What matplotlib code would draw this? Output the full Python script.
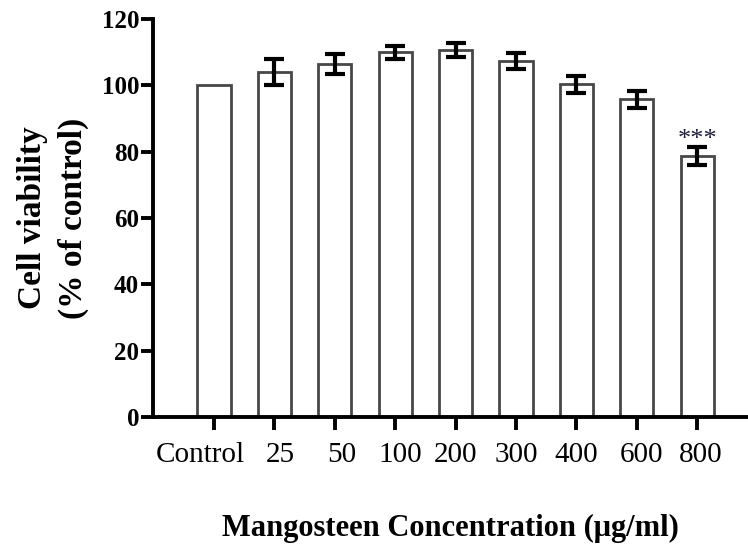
import numpy as np
import matplotlib
matplotlib.use("Agg")
from matplotlib import pyplot as plt
from matplotlib.transforms import ScaledTranslation

# Cell viability data
groups = ["Control", "25", "50", "100", "200", "300", "400", "600", "800"]
viability = [100, 104, 106.6, 110, 110.6, 107.4, 100.4, 95.8, 78.7]
sem = [0, 4, 3, 2, 2.1, 2.4, 2.6, 2.5, 2.7]
signif = ["", "", "", "", "", "", "", "", "***"]

# the original tick labels are not quite centred under their ticks
label_nudge_px = [-14, 6, 7, 5, 0, 0, 0, 5, 3]

plt.rcParams['font.family'] = ['Liberation Serif', 'DejaVu Serif']

fig = plt.figure(figsize=(7.48, 5.48), dpi=100)
ax = fig.add_axes([0.2045, 0.239, 0.7955, 0.726])

x = np.arange(len(groups))
ax.bar(x, viability, width=0.55, color="white", edgecolor="#474747", linewidth=2, zorder=2)
ax.errorbar(x[1:], viability[1:], yerr=sem[1:], fmt="none", ecolor="black",
            elinewidth=3, capsize=7, capthick=3, zorder=3)
for xi, v, e, s in zip(x, viability, sem, signif):
    if s:
        ax.text(xi, v + e - 1.2, s, ha="center", va="bottom", fontsize=19, color="#1c1c3a")

ax.set_xlim(-1.01, 8.84)
ax.set_ylim(0, 120)
ax.set_yticks(np.arange(0, 121, 20))
ax.set_xticks(x)
ax.set_xticklabels(groups, fontsize=21)

for side in ["top", "right"]:
    ax.spines[side].set_visible(False)
for side in ["left", "bottom"]:
    ax.spines[side].set_linewidth(2.8)
ax.tick_params(axis="both", width=2.8, length=9, direction="out")
ax.tick_params(axis="x", pad=9)
ax.tick_params(axis="y", pad=1)

for lab in ax.get_yticklabels():
    lab.set_fontsize(18)
    lab.set_fontweight("bold")
for lab, dx in zip(ax.get_xticklabels(), label_nudge_px):
    lab.set_transform(lab.get_transform() + ScaledTranslation(dx / 100, 0, fig.dpi_scale_trans))

ax.set_ylabel("Cell viability\n(% of control)", fontsize=24, fontweight="bold",
              labelpad=9, linespacing=1.4)
ax.set_xlabel("Mangosteen Concentration (\u03bcg/ml)", fontsize=22, fontweight="bold", labelpad=33)

fig.savefig("out.png", dpi=100)
